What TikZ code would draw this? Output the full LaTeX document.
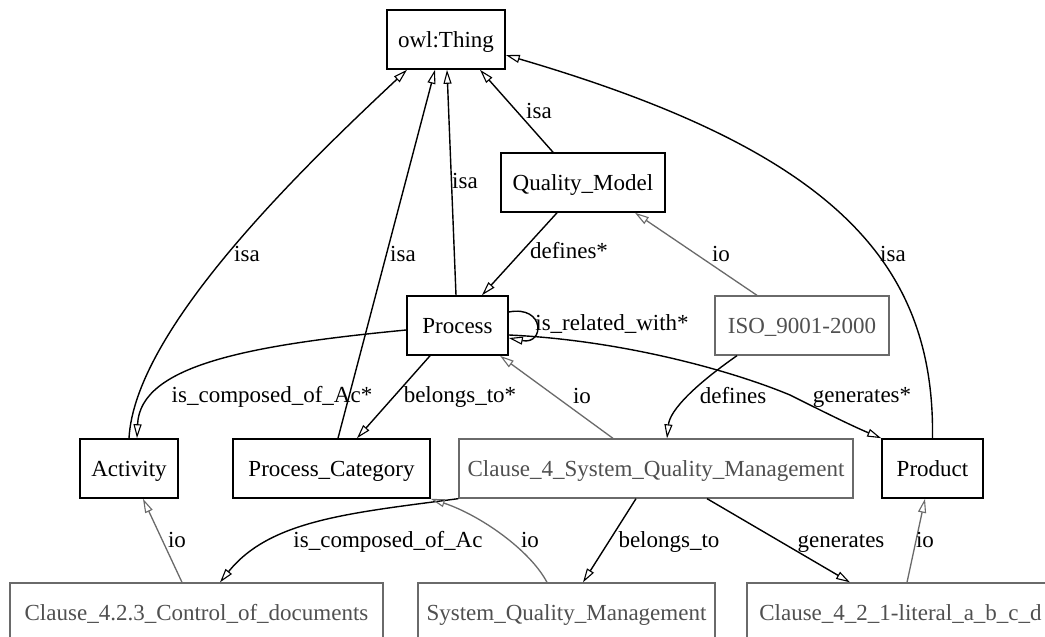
\documentclass[tikz,border=0pt]{standalone}
\usepackage{fontspec}
\setmainfont{Liberation Serif}
\usetikzlibrary{arrows.meta}
\definecolor{instgray}{HTML}{6A6A6A}
\definecolor{insttext}{HTML}{505050}
\tikzset{
  cls/.style={draw=black, line width=1.6pt, rectangle, inner sep=0pt, minimum height=59pt,
              text height=16pt, text depth=0pt, font=\fontsize{23}{27}\selectfont},
  inst/.style={draw=instgray, line width=1.3pt, rectangle, inner sep=0pt, minimum height=59pt,
              text height=16pt, text depth=0pt, text=insttext, font=\fontsize{23}{27}\selectfont},
  lab/.style={inner sep=0pt, text height=10pt, text depth=0pt, font=\fontsize{23}{27}\selectfont},
  rel/.style={draw=black, line width=1.4pt, -{Triangle[open,length=14pt,width=8pt,line width=1.1pt]}},
  iedge/.style={draw=instgray, line width=1.3pt, -{Triangle[open,length=14pt,width=8pt,line width=1.1pt]}},
}
\begin{document}
\begin{tikzpicture}[x=1pt,y=-1pt]
\useasboundingbox (0,0) rectangle (1045,637);
\clip (0,0) rectangle (1045,637);
\fill[white] (0,0) rectangle (1045,637);
% nodes
\node[cls, minimum width=118pt] (thing) at (446,39.5) {owl:Thing};
\node[cls, minimum width=164pt] (qm) at (583,182.5) {Quality\_Model};
\node[cls, minimum width=101pt] (proc) at (457.5,325.5) {Process};
\node[inst, minimum width=174pt] (iso) at (802,325.5) {ISO\_9001-2000};
\node[cls, minimum width=98pt] (act) at (129,468.5) {Activity};
\node[cls, minimum width=197pt] (pcat) at (331.5,468.5) {Process\_Category};
\node[inst, minimum width=394pt] (c4) at (656,468.5) {Clause\_4\_System\_Quality\_Management};
\node[cls, minimum width=101pt] (prod) at (932.5,468.5) {Product};
\node[inst, minimum width=373pt] (c423) at (196.5,612.5) {Clause\_4.2.3\_Control\_of\_documents};
\node[inst, minimum width=297pt] (sqm) at (566.5,612.5) {System\_Quality\_Management};
\node[inst, minimum width=307pt] (c421) at (900.5,612.5) {Clause\_4\_2\_1-literal\_a\_b\_c\_d};
% isa edges
\draw[rel] (act.north) .. controls (135,330) and (300,170) .. ([xshift=-39pt]thing.south);
\draw[rel] ([xshift=6.5pt]pcat.north) -- ([xshift=-11pt]thing.south);
\draw[rel] ([xshift=-1.5pt]proc.north) -- ([xshift=1pt]thing.south);
\draw[rel] ([xshift=-30pt]qm.north) -- ([xshift=34pt]thing.south);
\draw[rel] (prod.north) .. controls (935,260) and (830,150) .. ([yshift=-15.5pt]thing.east);
% object property edges
\draw[rel] ([xshift=-26pt]qm.south) -- ([xshift=24.5pt]proc.north);
\draw[rel] ([yshift=13.5pt]proc.east) .. controls (545,305) and (545,345) .. ([yshift=-12.5pt]proc.east);
\draw[rel] ([yshift=-4.5pt]proc.west) .. controls (250,345) and (140,365) .. ([xshift=8pt]act.north);
\draw[rel] ([xshift=-27.5pt]proc.south) -- ([xshift=25.5pt]pcat.north);
\draw[rel] ([yshift=-9.5pt]proc.east) .. controls (620,340) and (730,370) .. (790,395) .. controls (820,410) and (850,425) .. (prod.north west);
\draw[rel] ([xshift=-65pt]iso.south) .. controls (695,385) and (670,410) .. ([xshift=11pt]c4.north);
\draw[rel] (c4.south west) .. controls (350,513) and (270,520) .. ([xshift=23.5pt]c423.north);
\draw[rel] ([xshift=-20pt]c4.south) -- ([xshift=16.5pt]sqm.north);
\draw[rel] ([xshift=51pt]c4.south) -- ([xshift=-50.5pt]c421.north);
% io edges
\draw[iedge] ([xshift=-45pt]iso.north) -- ([xshift=52pt]qm.south);
\draw[iedge] ([xshift=-43pt]c4.north) -- ([xshift=42.5pt]proc.south);
\draw[iedge] ([xshift=-19.5pt]sqm.north) .. controls (530,550) and (480,515) .. (pcat.south east);
\draw[iedge] ([xshift=-14.5pt]c423.north) -- ([xshift=14pt]act.south);
\draw[iedge] ([xshift=6.5pt]c421.north) -- ([xshift=-7.5pt]prod.south);
% labels
\node[lab] (l1) at (539,113) {isa};
\node[lab] (l2) at (465,183) {isa};
\node[lab] (l3) at (247,256) {isa};
\node[lab] (l4) at (403,256) {isa};
\node[lab] (l5) at (893,256) {isa};
\node[lab] (l6) at (569,253) {defines*};
\node[lab] (l7) at (721,256) {io};
\node[lab] (l8) at (612,325) {is\_related\_with*};
\node[lab] (l9) at (272,397) {is\_composed\_of\_Ac*};
\node[lab] (l10) at (460,397) {belongs\_to*};
\node[lab] (l11) at (582,398) {io};
\node[lab] (l12) at (733,398) {defines};
\node[lab] (l13) at (862,397) {generates*};
\node[lab] (l14) at (388,542) {is\_composed\_of\_Ac};
\node[lab] (l15) at (177,542) {io};
\node[lab] (l16) at (530,542) {io};
\node[lab] (l17) at (669,542) {belongs\_to};
\node[lab] (l18) at (841,542) {generates};
\node[lab] (l19) at (925,542) {io};
\end{tikzpicture}
\end{document}
